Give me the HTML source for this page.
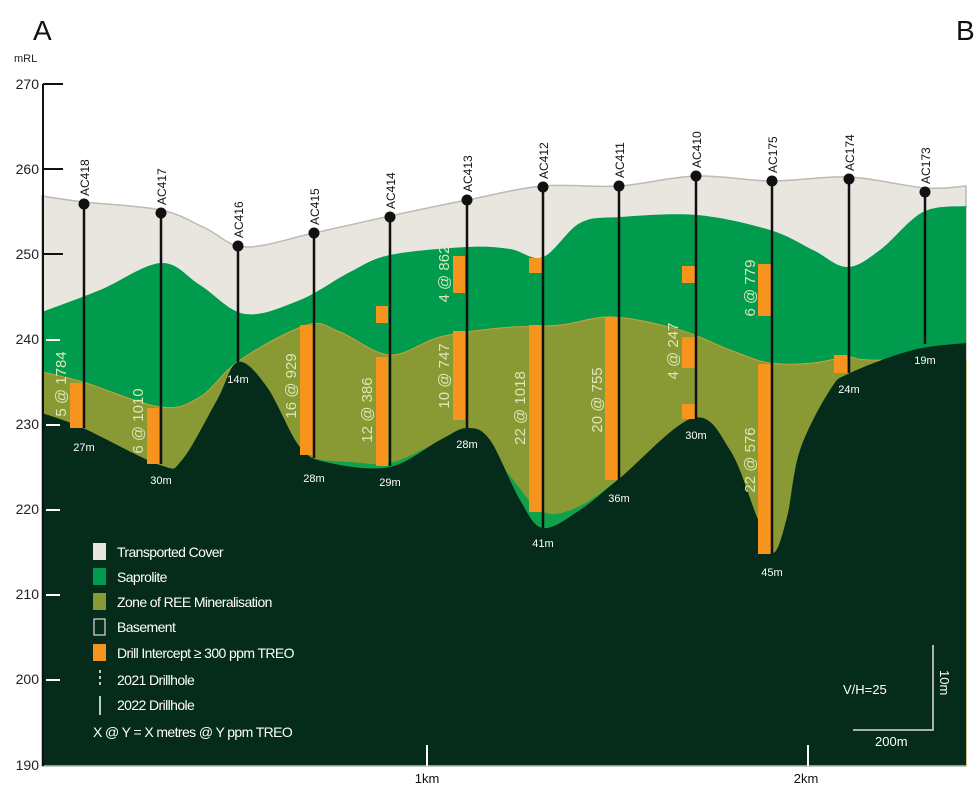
<!DOCTYPE html>
<html><head><meta charset="utf-8"><style>
html,body{margin:0;padding:0;background:#fff;}
svg{display:block;font-family:"Liberation Sans",sans-serif;}
.lb{fill:#dfe6b8;font-size:15px;}
.dp{fill:#fff;font-size:11px;}
.hn{fill:#111;font-size:12px;}
.lg{fill:#fff;font-size:14px;letter-spacing:-0.6px;}
</style></head><body>
<svg id="s" width="980" height="794" viewBox="0 0 980 794">
<rect width="980" height="794" fill="#fff"/>
<path id="cover" fill="#e9e5df" stroke="#bdb9b3" stroke-width="1.5"/>
<path id="sap" fill="#009b4c"/>
<path id="ree" fill="#899a35" stroke="#c8a23a" stroke-width="1"/>
<path id="strip" fill="#12a04a"/>
<path id="base" fill="#052b1b"/>
<line x1="42" y1="766" x2="966" y2="766" stroke="#bbb" stroke-width="1.5"/>
<!-- axis -->
<line x1="43" y1="84" x2="43" y2="766" stroke="#111" stroke-width="2"/>
<g stroke="#111" stroke-width="2"><line x1="43" y1="84" x2="63" y2="84"/><line x1="43" y1="169" x2="63" y2="169"/><line x1="43" y1="254" x2="63" y2="254"/></g>
<g stroke="#fff" stroke-width="2"><line x1="46" y1="340" x2="60" y2="340"/><line x1="46" y1="425" x2="60" y2="425"/><line x1="46" y1="510" x2="60" y2="510"/><line x1="46" y1="595" x2="60" y2="595"/><line x1="46" y1="680" x2="60" y2="680"/></g>
<g font-size="14" fill="#222" text-anchor="end"><text x="39" y="89">270</text><text x="39" y="174">260</text><text x="39" y="259">250</text><text x="39" y="344">240</text><text x="39" y="429">230</text><text x="39" y="514">220</text><text x="39" y="599">210</text><text x="39" y="684">200</text><text x="39" y="770">190</text></g>
<text x="14" y="62" font-size="11" fill="#222">mRL</text>
<text x="33" y="40" font-size="28" fill="#111">A</text>
<text x="956" y="40" font-size="28" fill="#111">B</text>
<!-- intercepts -->
<g fill="#f7941d">
<rect x="70" y="383" width="13" height="45"/><rect x="147" y="408" width="12" height="56"/>
<rect x="300" y="325" width="13" height="130"/><rect x="376" y="306" width="12" height="17"/><rect x="376" y="357" width="12" height="109"/>
<rect x="453" y="256" width="12" height="37"/><rect x="453" y="331" width="12" height="89"/>
<rect x="529" y="258" width="13" height="15"/><rect x="529" y="325" width="13" height="187"/>
<rect x="605" y="317" width="13" height="163"/>
<rect x="682" y="266" width="13" height="17"/><rect x="682" y="337" width="13" height="31"/><rect x="682" y="404" width="13" height="15"/>
<rect x="758" y="264" width="13" height="52"/><rect x="758" y="364" width="13" height="190"/>
<rect x="834" y="355" width="13" height="18"/>
</g>
<!-- holes -->
<g stroke="#111" stroke-width="2.5">
<line x1="84" y1="204" x2="84" y2="428"/><line x1="161" y1="213" x2="161" y2="464"/><line x1="238" y1="246" x2="238" y2="362"/><line x1="314" y1="233" x2="314" y2="458"/><line x1="390" y1="217" x2="390" y2="466"/><line x1="467" y1="200" x2="467" y2="428"/><line x1="543" y1="187" x2="543" y2="528"/><line x1="619" y1="186" x2="619" y2="480"/><line x1="696" y1="176" x2="696" y2="419"/><line x1="772" y1="181" x2="772" y2="554"/><line x1="849" y1="179" x2="849" y2="373"/><line x1="925" y1="192" x2="925" y2="344"/>
</g>
<g fill="#111">
<circle cx="84" cy="204" r="5.5"/><circle cx="161" cy="213" r="5.5"/><circle cx="238" cy="246" r="5.5"/><circle cx="314" cy="233" r="5.5"/><circle cx="390" cy="217" r="5.5"/><circle cx="467" cy="200" r="5.5"/><circle cx="543" cy="187" r="5.5"/><circle cx="619" cy="186" r="5.5"/><circle cx="696" cy="176" r="5.5"/><circle cx="772" cy="181" r="5.5"/><circle cx="849" cy="179" r="5.5"/><circle cx="925" cy="192" r="5.5"/>
</g>
<g class="hn">
<text transform="translate(89,196) rotate(-90)">AC418</text><text transform="translate(166,205) rotate(-90)">AC417</text><text transform="translate(243,238) rotate(-90)">AC416</text><text transform="translate(319,225) rotate(-90)">AC415</text><text transform="translate(395,209) rotate(-90)">AC414</text><text transform="translate(472,192) rotate(-90)">AC413</text><text transform="translate(548,179) rotate(-90)">AC412</text><text transform="translate(624,178) rotate(-90)">AC411</text><text transform="translate(701,168) rotate(-90)">AC410</text><text transform="translate(777,173) rotate(-90)">AC175</text><text transform="translate(854,171) rotate(-90)">AC174</text><text transform="translate(930,184) rotate(-90)">AC173</text>
</g>
<g class="lb" text-anchor="middle">
<text transform="translate(66,384) rotate(-90)">5 @ 1784</text>
<text transform="translate(143,421) rotate(-90)">6 @ 1010</text>
<text transform="translate(296,386) rotate(-90)">16 @ 929</text>
<text transform="translate(372,410) rotate(-90)">12 @ 386</text>
<text transform="translate(449,376) rotate(-90)">10 @ 747</text>
<text transform="translate(449,274) rotate(-90)">4 @ 862</text>
<text transform="translate(525,408) rotate(-90)">22 @ 1018</text>
<text transform="translate(602,400) rotate(-90)">20 @ 755</text>
<text transform="translate(678,351) rotate(-90)">4 @ 247</text>
<text transform="translate(755,288) rotate(-90)">6 @ 779</text>
<text transform="translate(755,460) rotate(-90)">22 @ 576</text>
</g>
<g class="dp" text-anchor="middle">
<text x="84" y="451">27m</text><text x="161" y="484">30m</text><text x="238" y="383">14m</text><text x="314" y="482">28m</text><text x="390" y="486">29m</text><text x="467" y="448">28m</text><text x="543" y="547">41m</text><text x="619" y="502">36m</text><text x="696" y="439">30m</text><text x="772" y="576">45m</text><text x="849" y="393">24m</text><text x="925" y="364">19m</text>
</g>
<!-- legend -->
<rect x="93" y="543" width="13" height="17" fill="#e9e5df"/>
<rect x="93" y="568" width="13" height="17" fill="#009b4c"/>
<rect x="93" y="593" width="13" height="17" fill="#899a35"/>
<rect x="94" y="619" width="11" height="16" fill="none" stroke="#ddd" stroke-width="1.2"/>
<rect x="93" y="644" width="13" height="17" fill="#f7941d"/>
<line x1="100" y1="670" x2="100" y2="688" stroke="#fff" stroke-width="1.5" stroke-dasharray="3,3"/>
<line x1="100" y1="696" x2="100" y2="715" stroke="#fff" stroke-width="1.5"/>
<g class="lg">
<text x="117" y="557">Transported Cover</text><text x="117" y="582">Saprolite</text><text x="117" y="607">Zone of REE Mineralisation</text><text x="117" y="632">Basement</text><text x="117" y="658">Drill Intercept ≥ 300 ppm TREO</text><text x="117" y="685">2021 Drillhole</text><text x="117" y="710">2022 Drillhole</text><text x="93" y="737">X  @  Y = X metres @ Y ppm TREO</text>
</g>
<!-- scale -->
<polyline points="933,645 933,730 853,730" fill="none" stroke="#ddd" stroke-width="1.5"/>
<text x="843" y="694" font-size="13" fill="#fff">V/H=25</text>
<text transform="translate(940,670) rotate(90)" font-size="13" fill="#fff">10m</text>
<text x="875" y="746" font-size="13" fill="#fff">200m</text>
<g stroke="#fff" stroke-width="2"><line x1="427" y1="745" x2="427" y2="766"/><line x1="808" y1="745" x2="808" y2="766"/></g>
<text x="427" y="783" font-size="13" fill="#111" text-anchor="middle">1km</text>
<text x="806" y="783" font-size="13" fill="#111" text-anchor="middle">2km</text>
</svg>
<script>
function cr(p){var d="M"+p[0][0]+","+p[0][1];for(var i=0;i<p.length-1;i++){var a=p[i-1]||p[i],b=p[i],c=p[i+1],e=p[i+2]||c;d+=" C"+(b[0]+(c[0]-a[0])/6)+","+(b[1]+(c[1]-a[1])/6)+" "+(c[0]-(e[0]-b[0])/6)+","+(c[1]-(e[1]-b[1])/6)+" "+c[0]+","+c[1];}return d;}
function fill(id,p){document.getElementById(id).setAttribute("d",cr(p)+" L"+p[p.length-1][0]+",766 L"+p[0][0]+",766 Z");}
fill("cover",[[42,196],[84,202],[161,210],[205,228],[245,247],[314,233],[390,216],[467,200],[543,186],[619,186],[696,176],[772,181],[849,177],[925,188],[966,186]]);
fill("sap",[[42,312],[100,290],[161,263],[200,285],[245,314],[300,300],[350,272],[390,255],[467,247],[510,249],[543,257],[580,223],[620,217],[697,215],[770,230],[813,250],[847,267],[880,250],[923,212],[966,206]]);
fill("ree",[[42,372],[83,382],[160,407],[200,397],[240,360],[307,325],[340,332],[390,355],[440,337],[500,328],[560,325],[613,317],[680,330],[730,350],[770,363],[813,363],[847,357],[870,360],[966,360]]);
fill("strip",[[290,440],[313,458],[350,462],[390,463],[430,446],[460,432],[480,438],[510,476],[543,512],[580,506],[620,478]]);
fill("base",[[42,413],[83,428],[160,465],[182,460],[217,400],[238,362],[267,387],[300,447],[330,463],[390,467],[440,440],[467,428],[490,440],[520,500],[543,528],[580,510],[620,478],[693,418],[730,450],[757,517],[773,553],[787,517],[800,450],[830,390],[850,373],[913,350],[966,343]]);
</script>
</body></html>
